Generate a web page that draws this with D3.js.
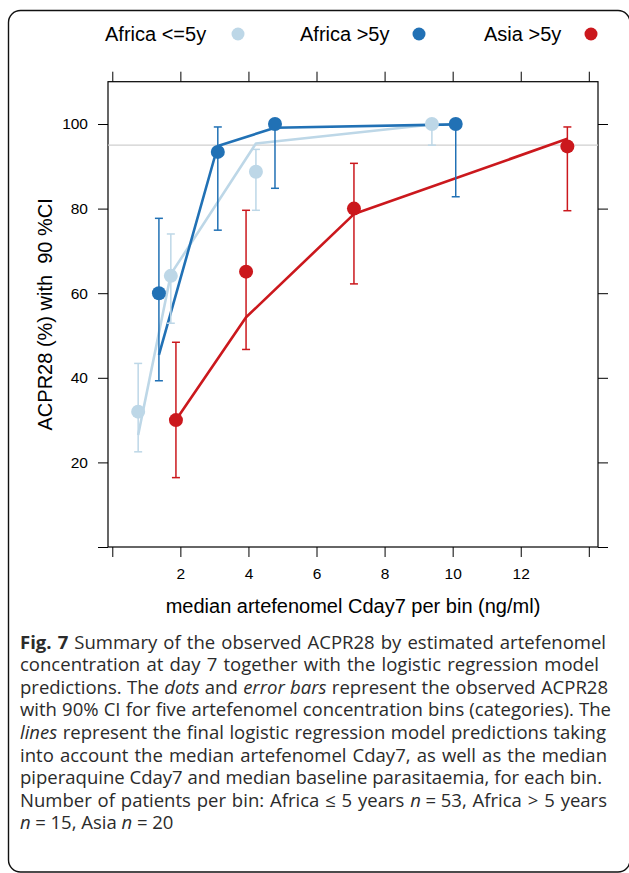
<!DOCTYPE html>
<html><head><meta charset="utf-8">
<script src="https://cdn.jsdelivr.net/npm/d3@7"></script>
<style>body{margin:0;background:#fff}</style>
</head><body>
<svg id="c" width="629" height="873"></svg>
<script>
// ---------- data ----------
const groups = ["Africa <=5y", "Africa >5y", "Asia >5y"];
const groupColors = ["#bdd7e7", "#2171b5", "#cb181d"];

const afrYoungX    = [0.76, 1.72, 4.22, 9.39];
const afrYoungObs  = [32.0, 64.1, 88.7, 100];
const afrYoungLo   = [22.5, 52.9, 79.6, 95.0];
const afrYoungHi   = [43.4, 74.0, 94.0, 100];
const afrYoungPred = [26.5, 64.5, 95.4, 99.9];

const afrOldX    = [1.37, 3.10, 4.78, 10.09];
const afrOldObs  = [60.0, 93.4, 100, 100];
const afrOldLo   = [39.3, 74.9, 84.8, 82.8];
const afrOldHi   = [77.7, 99.3, 100, 100];
const afrOldPred = [45.4, 94.8, 99.1, 99.9];

const asiaX    = [1.87, 3.93, 7.10, 13.37];
const asiaObs  = [30.0, 65.1, 80.0, 94.7];
const asiaLo   = [16.4, 46.7, 62.2, 79.5];
const asiaHi   = [48.4, 79.6, 90.7, 99.3];
const asiaPred = [30.0, 54.3, 78.7, 96.5];

const xTicks = [0, 2, 4, 6, 8, 10, 12, 14];
const xTickLabels = ["", "2", "4", "6", "8", "10", "12", ""];
const yTicks = [0, 20, 40, 60, 80, 100];
const yTickLabels = ["", "20", "40", "60", "80", "100"];
const referenceLevel = 95;

const xTitle = "median artefenomel Cday7 per bin (ng/ml)";
const yTitle = "ACPR28 (%) with\u00a0 90 %CI";

const captionLines = [
  [["Fig. 7", "b"], [" Summary of the observed ACPR28 by estimated artefenomel", ""]],
  [["concentration at day 7 together with the logistic regression model", ""]],
  [["predictions. The ", ""], ["dots", "i"], [" and ", ""], ["error bars", "i"], [" represent the observed ACPR28", ""]],
  [["with 90% CI for five artefenomel concentration bins (categories). The", ""]],
  [["lines", "i"], [" represent the final logistic regression model predictions taking", ""]],
  [["into account the median artefenomel Cday7, as well as the median", ""]],
  [["piperaquine Cday7 and median baseline parasitaemia, for each bin.", ""]],
  [["Number of patients per bin: Africa \u2264 5 years ", ""], ["n", "i"], ["\u2005=\u200553, Africa > 5 years", ""]],
  [["n", "i"], ["\u2005=\u200515, Asia ", ""], ["n", "i"], ["\u2005=\u200520", ""]]
];

const series = [
  {x: afrYoungX, obs: afrYoungObs, lo: afrYoungLo, hi: afrYoungHi, pred: afrYoungPred},
  {x: afrOldX,   obs: afrOldObs,   lo: afrOldLo,   hi: afrOldHi,   pred: afrOldPred},
  {x: asiaX,     obs: asiaObs,     lo: asiaLo,     hi: asiaHi,     pred: asiaPred}
].map((s, i) => ({name: groups[i], color: groupColors[i],
  pts: s.x.map((xv, j) => ({x: xv, obs: s.obs[j], lo: s.lo[j], hi: s.hi[j], pred: s.pred[j]}))}));

// ---------- layout ----------
const svg = d3.select("#c");
const AX = "'Liberation Sans', Arial, Helvetica, sans-serif";
const panel = {l: 108, r: 598, t: 81.7, b: 547};

svg.append("rect").attr("x", 8.5).attr("y", 10.5).attr("width", 621.5).attr("height", 861.5)
  .attr("rx", 12).attr("fill", "none").attr("stroke", "#111").attr("stroke-width", 1.4);

const x = d3.scaleLinear().domain([-0.126, 14.27]).range([panel.l, panel.r]);
const y = d3.scaleLinear().domain([0, 110]).range([panel.b, panel.t]);

// legend
const legX = [105, 300, 484];
const legDot = [238, 419, 591];
groups.forEach((g, i) => {
  svg.append("text").attr("x", legX[i]).attr("y", 41).text(g)
    .style("font-family", AX).style("font-size", "20px").attr("fill", "#000");
  svg.append("circle").attr("cx", legDot[i]).attr("cy", 34).attr("r", 6.5).attr("fill", groupColors[i]);
});

// axes
function styleAxis(g) {
  g.attr("font-family", null).attr("font-size", null);
  g.select(".domain").remove();
  g.selectAll(".tick line").attr("stroke", "#000").attr("stroke-width", 1);
  g.selectAll(".tick text").style("font-family", AX).style("font-size", "15.5px").attr("fill", "#000");
}
svg.append("g").attr("transform", `translate(0,${panel.b})`)
  .call(d3.axisBottom(x).tickValues(xTicks).tickFormat((d, i) => xTickLabels[i]).tickSize(10).tickPadding(11))
  .call(styleAxis);
svg.append("g").attr("transform", `translate(0,${panel.t})`)
  .call(d3.axisTop(x).tickValues(xTicks).tickFormat(() => "").tickSize(10))
  .call(styleAxis);
svg.append("g").attr("transform", `translate(${panel.l},0)`)
  .call(d3.axisLeft(y).tickValues(yTicks).tickFormat((d, i) => yTickLabels[i]).tickSize(10).tickPadding(10))
  .call(styleAxis);
svg.append("g").attr("transform", `translate(${panel.r},0)`)
  .call(d3.axisRight(y).tickValues(yTicks).tickFormat(() => "").tickSize(10))
  .call(styleAxis);

// panel box
svg.append("rect").attr("x", panel.l).attr("y", panel.t)
  .attr("width", panel.r - panel.l).attr("height", panel.b - panel.t)
  .attr("fill", "none").attr("stroke", "#000").attr("stroke-width", 1.2);

// titles
svg.append("text").attr("x", (panel.l + panel.r) / 2).attr("y", 613).attr("text-anchor", "middle")
  .style("font-family", AX).style("font-size", "20px").attr("fill", "#000").text(xTitle);
svg.append("text").attr("transform", `translate(52,${(panel.t + panel.b) / 2}) rotate(-90)`)
  .attr("text-anchor", "middle").style("font-family", AX).style("font-size", "20px").attr("fill", "#000").text(yTitle);

// reference line
svg.append("line").attr("x1", panel.l).attr("x2", panel.r)
  .attr("y1", y(referenceLevel)).attr("y2", y(referenceLevel))
  .attr("stroke", "#cfcfcf").attr("stroke-width", 1.2);

const plot = svg.append("g");
const line = d3.line().x(d => x(d.x)).y(d => y(d.pred));
series.forEach(s => {
  plot.append("path").datum(s.pts).attr("d", line).attr("fill", "none")
    .attr("stroke", s.color).attr("stroke-width", 2.6).attr("stroke-linejoin", "round");
});
series.forEach(s => {
  const g = plot.append("g").attr("stroke", s.color).attr("stroke-width", 1.5);
  s.pts.forEach(p => {
    g.append("line").attr("x1", x(p.x)).attr("x2", x(p.x)).attr("y1", y(p.lo)).attr("y2", y(p.hi));
    [p.lo, p.hi].forEach(v => g.append("line").attr("x1", x(p.x) - 4).attr("x2", x(p.x) + 4)
      .attr("y1", y(v)).attr("y2", y(v)));
  });
});
series.forEach(s => {
  plot.selectAll(null).data(s.pts).enter().append("circle")
    .attr("cx", d => x(d.x)).attr("cy", d => y(d.obs)).attr("r", 7).attr("fill", s.color);
});

// caption (justified)
const CF = "'Open Sans', 'Noto Sans', sans-serif";
const capLeft = 20, capTop = 648.5, capStep = 22.6;
const capRight = [606, 599, 608, 611, 606, 607, 602, 607, null];
function buildLine(i, fs) {
  const t = svg.append("text").attr("x", capLeft).attr("y", capTop + i * capStep)
    .style("font-family", CF).style("font-size", fs + "px").attr("fill", "#2b2b2b");
  captionLines[i].forEach(([txt, st]) => {
    const ts = t.append("tspan").text(txt);
    if (st === "b") ts.attr("font-weight", "bold");
    if (st === "i") ts.attr("font-style", "italic");
  });
  return t;
}
let ratio = Infinity;
captionLines.forEach((l, i) => {
  if (capRight[i] == null) return;
  const t = buildLine(i, 18);
  const w = t.node().getComputedTextLength();
  ratio = Math.min(ratio, (capRight[i] - capLeft) / w);
  t.remove();
});
const capFs = 18 * ratio;
captionLines.forEach((l, i) => {
  const t = buildLine(i, capFs);
  if (capRight[i] == null) return;
  const w = t.node().getComputedTextLength();
  const nSp = l.map(p => p[0]).join("").split(" ").length - 1;
  if (nSp > 0) t.style("word-spacing", ((capRight[i] - capLeft - w) / nSp) + "px");
});
</script>
</body></html>
